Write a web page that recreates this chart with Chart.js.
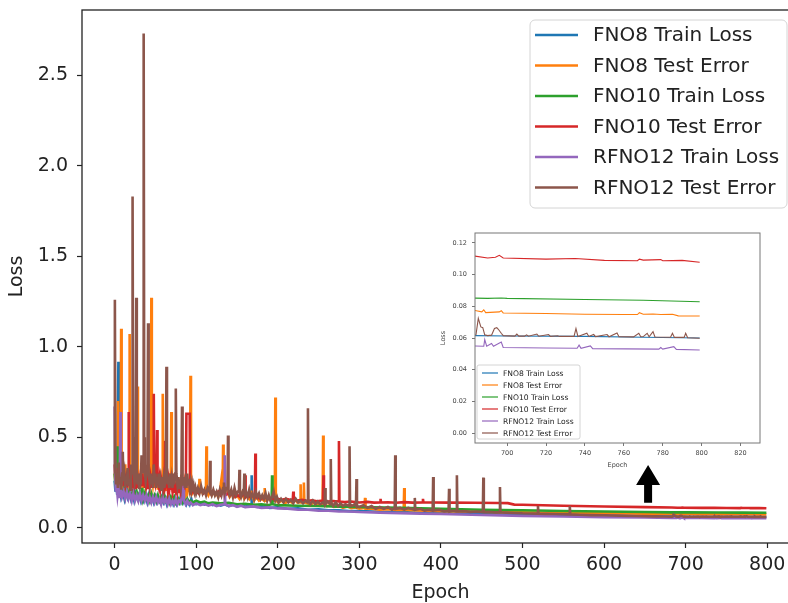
<!DOCTYPE html>
<html lang="en">
<head>
  <meta charset="UTF-8" />
  <title>Train Loss / Test Error</title>
  <script src="https://cdn.jsdelivr.net/npm/chart.js"></script>
  <style>
    html, body { margin: 0; padding: 0; background: #fff; overflow: hidden; }
    #wrap { position: relative; width: 820px; height: 603px; }
    #mainChart { position: absolute; left: 0; top: 0; }
    #insetChart { position: absolute; left: 430px; top: 228px; }
  </style>
</head>
<body>

<div id="wrap">
  <canvas id="mainChart" width="820" height="603"></canvas>
  <canvas id="insetChart" width="340" height="245"></canvas>
</div>

<script>
  // series names and colours (matplotlib tab10)
  const seriesNames = ["FNO8 Train Loss", "FNO8 Test Error", "FNO10 Train Loss",
                       "FNO10 Test Error", "RFNO12 Train Loss", "RFNO12 Test Error"];
  const seriesColors = ["#1f77b4", "#ff7f0e", "#2ca02c", "#d62728", "#9467bd", "#8c564b"];

  // [epoch, value]
  const fno8Train = [[0,0.26],[1,0.2],[2,0.24],[3,0.19],[4,0.6],[4.6,0.91],[5.4,0.91],[6,0.3],[7,0.2],[8,0.17],[10,0.2],[12,0.16],[14,0.21],[16,0.17],[18,0.2],[20,0.16],[22,0.19],[24,0.15],[26,0.19],[28,0.16],[30,0.18],[32,0.15],[34,0.19],[36,0.15],[38,0.17],[40,0.14],[42,0.18],[44,0.15],[46,0.17],[48,0.14],[50,0.17],[52,0.14],[54,0.16],[56,0.14],[58,0.17],[60,0.14],[62,0.16],[64,0.13],[66,0.16],[68,0.14],[70,0.16],[72,0.13],[74,0.15],[76,0.13],[78,0.16],[80,0.14],[82,0.17],[84,0.14],[86,0.16],[88,0.13],[90,0.15],[92,0.13],[94,0.16],[96,0.13],[98,0.14],[100,0.13],[105,0.14],[110,0.128],[115,0.136],[120,0.125],[125,0.133],[130,0.122],[135,0.13],[140,0.12],[145,0.128],[150,0.118],[155,0.126],[160,0.116],[165,0.124],[167.4,0.12],[168,0.29],[168.6,0.12],[175,0.115],[180,0.12],[190,0.11],[200,0.113],[212,0.105],[225,0.108],[237,0.1],[250,0.102],[262,0.096],[275,0.097],[287,0.092],[300,0.093],[325,0.088],[350,0.087],[375,0.083],[400,0.081],[450,0.076],[500,0.072],[550,0.068],[600,0.066],[650,0.063],[683,0.0615],[700,0.0613],[740,0.061],[770,0.0605],[799,0.0600]];

  const fno8Test = [[0,0.3],[1,0.25],[2,0.32],[3.4,0.3],[4,0.7],[4.6,0.28],[6,0.24],[7.4,0.3],[8,1.10],[8.6,0.28],[10,0.24],[11,0.3],[12,0.23],[13,0.35],[14,0.25],[15,0.28],[16,0.23],[17.8,0.3],[18.4,1.07],[19,0.3],[20,0.25],[21,0.3],[22,0.23],[23,0.27],[24,0.22],[25,0.3],[26,0.24],[27.4,0.3],[28,0.78],[28.6,0.28],[30,0.24],[31,0.3],[32,0.23],[33,0.32],[34,0.25],[35,0.28],[36,0.22],[37,0.3],[38,0.24],[39,0.27],[40,0.22],[41,0.3],[42,0.24],[43,0.35],[44.4,0.3],[45,1.27],[45.6,0.3],[47,0.24],[48,0.28],[49,0.22],[50,0.3],[51,0.23],[52,0.27],[53,0.21],[54,0.28],[55,0.22],[56,0.26],[57,0.21],[58.4,0.28],[59,0.74],[59.6,0.3],[61,0.23],[62,0.27],[63,0.21],[64,0.28],[65,0.22],[66,0.3],[67,0.23],[68.9,0.28],[69.5,0.64],[70.1,0.25],[71,0.22],[72,0.27],[73,0.21],[74,0.25],[75,0.2],[76,0.26],[77,0.21],[78,0.28],[79,0.22],[80,0.25],[81,0.2],[82,0.24],[83,0.2],[84,0.26],[85,0.2],[86,0.24],[87,0.2],[88,0.23],[89,0.19],[90,0.22],[92.4,0.2],[93,0.84],[93.6,0.22],[95,0.19],[97,0.21],[99,0.19],[103.4,0.2],[104,0.27],[104.6,0.2],[106,0.21],[108,0.19],[110,0.2],[111.9,0.19],[112.5,0.45],[113.1,0.2],[115,0.18],[117,0.2],[119,0.18],[121,0.2],[123,0.18],[125,0.19],[127,0.17],[129,0.2],[131,0.27],[132.4,0.2],[133,0.46],[133.6,0.2],[135,0.18],[138,0.2],[141,0.17],[144,0.19],[147,0.17],[150,0.18],[153,0.16],[156,0.19],[159,0.16],[162,0.18],[165,0.16],[168,0.19],[171,0.15],[174,0.17],[177,0.15],[180,0.16],[183.4,0.15],[184,0.22],[184.6,0.15],[188,0.16],[192,0.15],[196.4,0.15],[197,0.72],[197.6,0.15],[201,0.14],[205,0.15],[209,0.135],[213,0.15],[217,0.14],[221,0.16],[224,0.14],[227.4,0.14],[228,0.24],[228.6,0.14],[231.4,0.14],[232,0.25],[232.6,0.14],[236,0.135],[240,0.13],[245,0.14],[250,0.125],[255,0.13],[255.6,0.51],[256.2,0.13],[260,0.12],[265,0.125],[270,0.115],[275,0.12],[280,0.11],[285,0.118],[290,0.108],[295,0.112],[300,0.105],[306.4,0.11],[307,0.165],[307.6,0.105],[315,0.105],[325,0.1],[335,0.102],[345,0.098],[354.4,0.1],[355,0.22],[355.6,0.1],[365,0.097],[380,0.095],[400,0.092],[430,0.09],[460,0.087],[500,0.085],[550,0.082],[600,0.08],[650,0.078],[683,0.0775],[687,0.0765],[688,0.0778],[689,0.076],[696,0.0765],[697,0.0772],[698,0.0758],[720,0.0755],[740,0.075],[760,0.0748],[767,0.0748],[768,0.076],[770,0.075],[775,0.0752],[779,0.0748],[785,0.075],[788,0.074],[799,0.0739]];

  const fno10Train = [[0,0.3],[1,0.23],[2.4,0.3],[3,0.45],[3.6,0.21],[5,0.19],[7,0.22],[9,0.18],[11,0.21],[13,0.17],[15,0.22],[17,0.18],[19,0.2],[21,0.17],[23,0.21],[25,0.17],[27,0.2],[29,0.16],[31,0.2],[33,0.17],[34,0.22],[35,0.16],[37,0.19],[39,0.16],[41,0.18],[43,0.15],[45,0.19],[47,0.16],[49,0.18],[51,0.15],[53,0.18],[55,0.15],[57,0.17],[59,0.15],[61,0.18],[63,0.15],[65,0.17],[67,0.14],[69,0.17],[71,0.15],[73,0.17],[75,0.14],[77,0.16],[79,0.14],[81,0.17],[83,0.14],[85,0.16],[87,0.14],[89,0.16],[91,0.14],[93,0.15],[96,0.14],[100,0.15],[105,0.14],[110,0.145],[115,0.135],[120,0.14],[130,0.135],[140,0.138],[150,0.13],[160,0.133],[170,0.127],[180,0.13],[188,0.125],[192.4,0.13],[193,0.29],[193.6,0.13],[200,0.125],[225,0.122],[250,0.12],[275,0.117],[300,0.115],[350,0.11],[400,0.105],[450,0.1],[500,0.097],[550,0.093],[600,0.09],[650,0.087],[683,0.0852],[690,0.085],[697,0.0853],[700,0.085],[740,0.0843],[770,0.0838],[799,0.0829]];

  const fno10Test = [[0,0.35],[1,0.28],[2,0.33],[3,0.26],[4,0.3],[5,0.24],[6,0.3],[7,0.25],[8,0.32],[9,0.24],[10,0.28],[11,0.23],[12,0.3],[13,0.24],[14,0.27],[15,0.22],[16.4,0.3],[17,0.64],[17.6,0.3],[19,0.24],[20,0.28],[21,0.22],[22,0.3],[23,0.24],[24,0.27],[25,0.22],[26,0.3],[27,0.24],[28,0.28],[29,0.22],[30,0.26],[31,0.22],[32,0.28],[33,0.23],[34,0.3],[35,0.24],[36,0.27],[37,0.22],[38,0.3],[39,0.24],[40,0.27],[41,0.22],[42,0.28],[43,0.23],[44,0.27],[45,0.22],[46,0.28],[47.4,0.3],[48,0.74],[48.6,0.3],[50,0.25],[51.4,0.3],[52,0.54],[52.6,0.26],[54,0.23],[55,0.27],[56,0.22],[57,0.26],[58,0.22],[59,0.27],[60,0.22],[61.4,0.26],[62,0.48],[62.6,0.24],[64,0.27],[65,0.22],[66,0.26],[67,0.21],[68,0.25],[69,0.21],[70,0.25],[71,0.2],[72,0.24],[73,0.2],[74,0.25],[75,0.21],[76,0.24],[77,0.2],[78,0.23],[79,0.2],[80,0.24],[81,0.2],[82,0.25],[83,0.21],[84,0.23],[85,0.2],[86,0.23],[87.4,0.3],[88,0.63],[92,0.63],[92.6,0.2],[94,0.19],[96,0.21],[98,0.19],[100,0.2],[103,0.19],[106,0.21],[109,0.19],[112,0.2],[115,0.21],[118,0.19],[121,0.2],[124,0.19],[127,0.2],[130,0.18],[133,0.2],[136,0.18],[139,0.19],[142,0.18],[145,0.19],[148,0.17],[151,0.18],[154,0.17],[157,0.18],[159.4,0.18],[160,0.29],[160.6,0.17],[163,0.18],[166,0.17],[169,0.175],[171.9,0.17],[172.5,0.41],[173.1,0.17],[176,0.165],[180,0.16],[184,0.17],[188,0.16],[192,0.165],[196,0.155],[200,0.16],[205,0.155],[210,0.16],[215,0.155],[218.4,0.155],[219,0.2],[219.6,0.155],[224,0.15],[230,0.155],[236,0.148],[242,0.152],[248,0.146],[255.4,0.15],[256,0.29],[256.6,0.15],[262,0.145],[268,0.148],[274.4,0.145],[275,0.48],[275.6,0.145],[282,0.142],[290,0.145],[300,0.14],[310,0.143],[318,0.139],[325.4,0.14],[326,0.16],[326.6,0.14],[335,0.141],[345,0.138],[355,0.142],[365,0.139],[377.4,0.14],[378,0.16],[378.6,0.14],[390,0.14],[410,0.139],[440,0.138],[470,0.137],[482,0.136],[490,0.128],[500,0.127],[550,0.122],[600,0.118],[650,0.114],[683,0.1118],[690,0.1105],[694,0.111],[696,0.1122],[698,0.1105],[720,0.1098],[735,0.1102],[750,0.109],[767,0.1088],[768,0.1098],[770,0.1092],[779,0.1095],[780,0.1088],[790,0.109],[799,0.1078]];

  const rfno12Train = [[0,0.67],[0.6,0.3],[1.5,0.2],[2.5,0.23],[3.5,0.18],[4.5,0.22],[5.5,0.17],[6.4,0.25],[7,0.64],[7.6,0.21],[9,0.17],[11,0.2],[13,0.16],[15,0.2],[17,0.16],[19,0.19],[21,0.15],[23,0.19],[25,0.15],[27,0.18],[29,0.15],[31,0.19],[33,0.15],[35,0.18],[37,0.15],[39,0.18],[41,0.14],[43,0.17],[45,0.14],[47,0.17],[49,0.14],[51,0.17],[53,0.14],[55,0.16],[57,0.13],[59,0.17],[61,0.14],[63,0.16],[65,0.13],[67,0.16],[69,0.13],[71,0.15],[73,0.13],[75,0.16],[77,0.13],[79,0.15],[81,0.14],[83,0.18],[84,0.21],[85,0.15],[87,0.13],[89,0.15],[91,0.13],[93,0.14],[96,0.125],[100,0.135],[105,0.125],[110,0.132],[115,0.122],[120,0.13],[125,0.12],[130,0.127],[134.4,0.13],[135,0.4],[135.6,0.13],[140,0.12],[145,0.125],[150,0.116],[155,0.122],[160,0.114],[170,0.118],[180,0.11],[190,0.113],[200,0.107],[212,0.106],[225,0.1],[237,0.1],[250,0.095],[262,0.094],[275,0.09],[287,0.09],[300,0.087],[325,0.084],[350,0.081],[375,0.078],[400,0.076],[450,0.071],[500,0.066],[550,0.062],[600,0.059],[650,0.0565],[683,0.055],[688,0.0548],[688.5,0.059],[689.5,0.0548],[692,0.0565],[693,0.0548],[697,0.0575],[698,0.054],[720,0.0537],[736,0.0535],[737,0.0555],[738,0.0535],[742.8,0.055],[744,0.0533],[778,0.053],[779,0.054],[780,0.053],[785.7,0.0545],[787,0.0528],[799,0.0524]];

  const rfno12Test = [[0,0.3],[0.3,1.26],[1,0.32],[2,0.24],[3,0.3],[4,0.22],[5,0.36],[6,0.24],[7,0.28],[8,0.21],[9.3,0.3],[10,0.42],[10.7,0.26],[12,0.3],[13,0.22],[14,0.28],[15,0.24],[16,0.33],[17,0.23],[18,0.27],[19,0.21],[20,0.35],[21.3,0.3],[22,1.83],[22.7,0.5],[23.5,0.3],[24.5,0.25],[25.8,0.3],[26.5,1.27],[27.2,0.3],[28,0.24],[29,0.3],[30,0.22],[31,0.28],[32,0.24],[33,0.4],[34,0.3],[35,0.35],[35.6,2.73],[36.3,0.5],[37,0.3],[38,0.26],[39,0.3],[40.3,0.35],[41,1.13],[41.7,0.3],[43,0.25],[44,0.3],[45,0.24],[46,0.28],[47,0.22],[48,0.35],[49,0.25],[50,0.3],[51,0.22],[52,0.28],[53,0.24],[54,0.3],[55,0.22],[56,0.26],[57,0.21],[58,0.28],[59,0.23],[60,0.27],[61,0.22],[62.8,0.3],[63.5,0.89],[64.2,0.3],[65,0.24],[66,0.28],[67,0.22],[68,0.3],[69,0.23],[70,0.27],[71,0.22],[72,0.3],[73,0.24],[74.3,0.3],[75,0.77],[75.7,0.3],[77,0.24],[78,0.28],[79,0.22],[80,0.26],[81,0.23],[81.9,0.3],[82.6,0.67],[83.3,0.28],[84,0.24],[85,0.28],[86,0.22],[87,0.26],[88,0.22],[89,0.3],[90,0.24],[91,0.27],[92,0.22],[93,0.25],[94,0.21],[95,0.24],[96,0.2],[97,0.23],[98,0.2],[99,0.22],[100,0.19],[102,0.22],[104,0.19],[106,0.23],[108,0.19],[110,0.21],[112,0.18],[114,0.22],[116.4,0.2],[117,0.37],[117.6,0.2],[119,0.18],[121,0.21],[123,0.18],[125,0.2],[127,0.17],[129,0.21],[131,0.18],[133,0.22],[134,0.25],[135,0.19],[137,0.22],[138.4,0.22],[139,0.51],[139.6,0.2],[141,0.18],[143,0.21],[145,0.17],[147,0.22],[149,0.18],[151,0.2],[152.4,0.2],[153,0.32],[153.6,0.19],[155,0.17],[157,0.2],[158.4,0.19],[159,0.3],[159.6,0.18],[161,0.2],[163,0.17],[165,0.21],[167,0.17],[169,0.19],[171,0.16],[173,0.2],[175,0.17],[177,0.19],[179,0.16],[181,0.18],[183,0.16],[185,0.19],[187,0.15],[189,0.18],[191,0.15],[193,0.17],[195,0.2],[197,0.15],[199,0.17],[201,0.14],[204,0.16],[207,0.14],[210,0.16],[213,0.14],[216,0.155],[219,0.135],[222,0.16],[225,0.14],[228,0.15],[231,0.135],[234,0.15],[236.4,0.14],[237,0.66],[237.6,0.15],[240,0.13],[243,0.15],[246,0.13],[249,0.145],[252,0.13],[255,0.14],[257.4,0.13],[258,0.22],[258.6,0.13],[261,0.145],[264.4,0.13],[265,0.38],[265.6,0.14],[268,0.12],[271,0.14],[274,0.12],[277,0.135],[280,0.12],[283,0.13],[287.4,0.12],[288,0.45],[288.6,0.13],[291,0.12],[294,0.13],[295.9,0.12],[296.5,0.27],[297.1,0.12],[300,0.115],[305,0.125],[310,0.11],[315,0.12],[320,0.105],[325,0.115],[330,0.105],[335,0.115],[340,0.1],[343.4,0.11],[344,0.4],[344.6,0.105],[350,0.11],[355,0.1],[360,0.11],[367.4,0.1],[368,0.165],[368.6,0.1],[375,0.105],[380,0.095],[385,0.1],[389.9,0.095],[390.5,0.28],[391.1,0.095],[398,0.1],[404,0.09],[409.4,0.095],[410,0.215],[410.6,0.09],[415,0.095],[419,0.09],[419.6,0.29],[420.2,0.09],[428,0.092],[436,0.088],[444,0.09],[451.4,0.087],[452,0.277],[452.6,0.087],[460,0.088],[466,0.085],[471.8,0.086],[472.4,0.225],[473,0.086],[480,0.084],[490,0.082],[500,0.08],[510,0.079],[518.4,0.078],[519,0.12],[519.6,0.078],[530,0.077],[540,0.076],[550,0.075],[557.4,0.074],[558,0.12],[558.6,0.074],[570,0.072],[585,0.07],[600,0.069],[620,0.067],[640,0.065],[660,0.063],[675,0.0622],[683,0.0618],[684,0.062],[685.2,0.0724],[686.5,0.067],[687.5,0.0665],[688.5,0.062],[690,0.0615],[692,0.0618],[693.5,0.066],[694.7,0.0665],[695.5,0.0655],[697,0.063],[698,0.0615],[704,0.0612],[705,0.0625],[706,0.0612],[709,0.0612],[710,0.062],[711,0.0611],[715.3,0.0625],[716.3,0.0611],[721.3,0.0622],[722.3,0.061],[726,0.0614],[727,0.061],[734.4,0.061],[735.4,0.066],[736.4,0.061],[741,0.063],[742,0.061],[744.5,0.0622],[745.5,0.0609],[751.4,0.0622],[752.4,0.0608],[756.5,0.0632],[757.5,0.0608],[765,0.0607],[767.7,0.063],[768.7,0.0608],[770,0.0609],[772,0.063],[773,0.0608],[775,0.064],[776,0.0606],[784,0.0605],[785,0.063],[786,0.0604],[791,0.0604],[791.8,0.063],[792.8,0.0602],[799,0.0598]];

  const allSeries = [fno8Train, fno8Test, fno10Train, fno10Test, rfno12Train, rfno12Test];

  // axes
  const xTicks = [0, 100, 200, 300, 400, 500, 600, 700, 800];
  const yTicks = [0.0, 0.5, 1.0, 1.5, 2.0, 2.5];
  const insetXTicks = [700, 720, 740, 760, 780, 800, 820];
  const insetYTicks = [0.00, 0.02, 0.04, 0.06, 0.08, 0.10, 0.12];

  Chart.defaults.font.family = "'DejaVu Sans', sans-serif";
  Chart.defaults.color = "#222";

  function makeDatasets(width) {
    return allSeries.map((d, i) => ({
      label: seriesNames[i],
      data: d.slice(),
      borderColor: seriesColors[i],
      backgroundColor: seriesColors[i],
      borderWidth: width,
      pointRadius: 0,
      tension: 0,
      fill: false,
      order: allSeries.length - 1 - i
    }));
  }

  function drawLegend(ctx, o) {
    ctx.save();
    ctx.beginPath();
    ctx.roundRect(o.x, o.y, o.w, o.h, o.r);
    ctx.fillStyle = "rgba(255,255,255,0.85)";
    ctx.fill();
    ctx.strokeStyle = "#d4d4d4";
    ctx.lineWidth = 1;
    ctx.stroke();
    ctx.font = o.size + "px 'DejaVu Sans', sans-serif";
    ctx.textBaseline = "middle";
    ctx.textAlign = "left";
    seriesNames.forEach((name, i) => {
      const y = o.row0 + i * o.step;
      ctx.strokeStyle = seriesColors[i];
      ctx.lineWidth = o.lw;
      ctx.beginPath();
      ctx.moveTo(o.lx0, y);
      ctx.lineTo(o.lx1, y);
      ctx.stroke();
      ctx.fillStyle = "#222";
      ctx.fillText(name, o.tx, y + 1);
    });
    ctx.restore();
  }

  // no label overhang padding: the plot box is placed by hand
  function fixY(width) {
    return s => { s.width = width; s.paddingTop = 0; s.paddingBottom = 0; };
  }
  function fixX(height) {
    return s => { s.height = height; s.paddingLeft = 0; s.paddingRight = 0; };
  }

  const mainExtras = {
    id: "mainExtras",
    afterDraw(chart) {
      const {ctx, chartArea: a, scales} = chart;
      ctx.save();
      ctx.strokeStyle = "#222";
      ctx.lineWidth = 1.3;
      ctx.strokeRect(a.left, a.top, a.right - a.left, a.bottom - a.top);

      // arrow pointing up to the inset
      const ax = scales.x.getPixelForValue(654);
      const yTip = scales.y.getPixelForValue(0.347);
      const yNeck = scales.y.getPixelForValue(0.237);
      const yEnd = scales.y.getPixelForValue(0.138);
      ctx.fillStyle = "#000";
      ctx.beginPath();
      ctx.moveTo(ax, yTip);
      ctx.lineTo(ax + 12, yNeck);
      ctx.lineTo(ax + 4, yNeck);
      ctx.lineTo(ax + 4, yEnd);
      ctx.lineTo(ax - 4, yEnd);
      ctx.lineTo(ax - 4, yNeck);
      ctx.lineTo(ax - 12, yNeck);
      ctx.closePath();
      ctx.fill();
      ctx.restore();

      drawLegend(ctx, {x: 530, y: 20, w: 257, h: 188, r: 5, row0: 35, step: 30.5,
                       lx0: 535, lx1: 578, tx: 593, size: 20, lw: 2.6});
    }
  };

  new Chart(document.getElementById("mainChart"), {
    type: "line",
    data: { datasets: makeDatasets(2.6) },
    options: {
      responsive: false,
      animation: false,
      events: [],
      layout: { padding: { left: 0, right: 21, top: 10, bottom: 0 } },
      plugins: { legend: { display: false }, tooltip: { enabled: false } },
      scales: {
        x: {
          type: "linear", min: -40, max: 839,
          afterBuildTicks: s => { s.ticks = xTicks.map(v => ({ value: v })); },
          afterFit: fixX(60),
          grid: { drawOnChartArea: false, tickLength: 5, tickColor: "#222", tickWidth: 1.2 },
          border: { display: false },
          ticks: { font: { size: 19 }, color: "#222", padding: 6, maxRotation: 0, autoSkip: false },
          title: { display: true, text: "Epoch", color: "#222", font: { size: 19, lineHeight: 1 },
                   padding: { top: 0, bottom: 0.5 } }
        },
        y: {
          type: "linear", min: -0.084, max: 2.86,
          afterBuildTicks: s => { s.ticks = yTicks.map(v => ({ value: v })); },
          afterFit: fixY(82),
          grid: { drawOnChartArea: false, tickLength: 5, tickColor: "#222", tickWidth: 1.2 },
          border: { display: false },
          ticks: { font: { size: 19 }, color: "#222", padding: 9, autoSkip: false,
                   callback: v => v.toFixed(1) },
          title: { display: true, text: "Loss", color: "#222", font: { size: 19, lineHeight: 1 },
                   padding: { top: 7.5, bottom: 0 } }
        }
      }
    },
    plugins: [mainExtras]
  });

  const insetExtras = {
    id: "insetExtras",
    beforeDatasetsDraw(chart) {
      const {ctx, chartArea: a} = chart;
      ctx.save();
      ctx.fillStyle = "#fff";
      ctx.fillRect(a.left, a.top, a.right - a.left, a.bottom - a.top);
      ctx.restore();
    },
    afterDraw(chart) {
      const {ctx, chartArea: a} = chart;
      ctx.save();
      ctx.strokeStyle = "#777";
      ctx.lineWidth = 1;
      ctx.strokeRect(a.left, a.top, a.right - a.left, a.bottom - a.top);
      ctx.restore();
      drawLegend(ctx, {x: 47, y: 137, w: 103, h: 74, r: 2, row0: 145, step: 12,
                       lx0: 52, lx1: 68, tx: 73, size: 7.6, lw: 1.2});
    }
  };

  new Chart(document.getElementById("insetChart"), {
    type: "line",
    data: { datasets: makeDatasets(1.1) },
    options: {
      responsive: false,
      animation: false,
      events: [],
      layout: { padding: { left: 0, right: 10, top: 5, bottom: 0 } },
      plugins: { legend: { display: false }, tooltip: { enabled: false } },
      scales: {
        x: {
          type: "linear", min: 683.5, max: 830,
          afterBuildTicks: s => { s.ticks = insetXTicks.map(v => ({ value: v })); },
          afterFit: fixX(30),
          grid: { drawOnChartArea: false, tickLength: 3, tickColor: "#777" },
          border: { display: false },
          ticks: { font: { size: 6.5 }, color: "#444", padding: 3, maxRotation: 0, autoSkip: false },
          title: { display: true, text: "Epoch", color: "#444", font: { size: 6.5, lineHeight: 1 },
                   padding: { top: 0, bottom: 4.75 } }
        },
        y: {
          type: "linear", min: -0.0063, max: 0.1263,
          afterBuildTicks: s => { s.ticks = insetYTicks.map(v => ({ value: v })); },
          afterFit: fixY(45),
          grid: { drawOnChartArea: false, tickLength: 3, tickColor: "#777" },
          border: { display: false },
          ticks: { font: { size: 6.5 }, color: "#444", padding: 5, autoSkip: false,
                   callback: v => v.toFixed(2) },
          title: { display: true, text: "Loss", color: "#444", font: { size: 6.5, lineHeight: 1 },
                   padding: { top: 9.75, bottom: 0 } }
        }
      }
    },
    plugins: [insetExtras]
  });
</script>
</body>
</html>
